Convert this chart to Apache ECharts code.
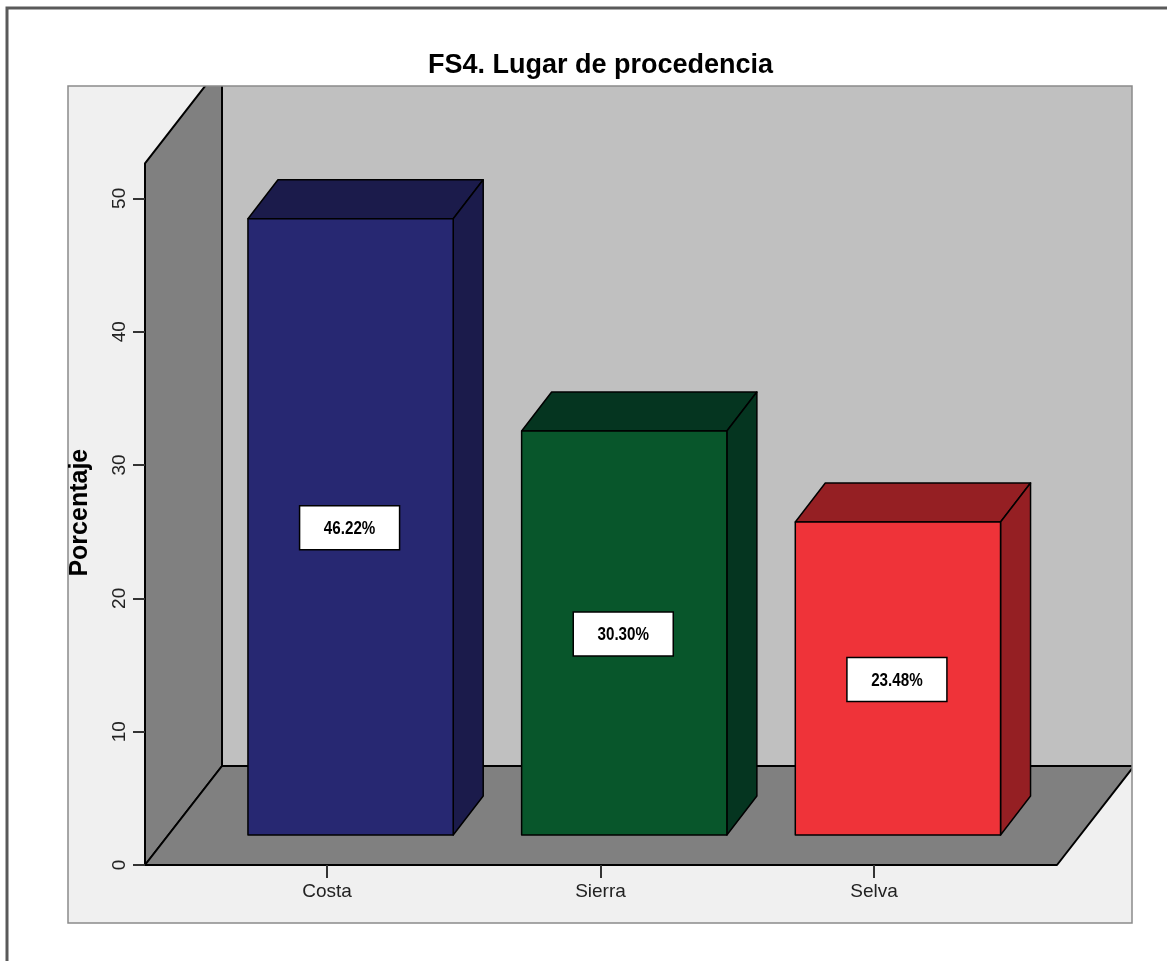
<!DOCTYPE html>
<html>
<head>
<meta charset="utf-8">
<script src="https://cdn.jsdelivr.net/npm/echarts@6/dist/echarts.min.js"></script>
<style>
  html, body { margin: 0; padding: 0; background: #fff; }
  #chart { width: 1167px; height: 961px; }
</style>
</head>
<body>
<div id="chart"></div>
<script>
// datos
const categories = ['Costa', 'Sierra', 'Selva']
const percentages = [46.22, 30.30, 23.48]
const Y_MIN = 0
const Y_MAX = 50
const Y_STEP = 10

// colores (cara frontal / cara superior y lateral)
const FRONT = ['#272872', '#08562b', '#ef3339']
const SHADE = ['#1b1b4b', '#053520', '#951f23']

// desplazamientos 3D
const BAR_DX = 30, BAR_DY = -39
const BOX_DX = 77, BOX_DY = -99
const WALL_EXTRA = 35
const FRAME = { x: 68, y: 86, width: 1064, height: 837 }
const FONT = '"Liberation Sans", Arial, sans-serif'

const chart = echarts.init(document.getElementById('chart'), null, { renderer: 'canvas' })

// paredes y suelo de la caja 3D, a partir del rectángulo del grid del eje visible
function renderWalls(params) {
  const cs = params.coordSys
  const x0 = cs.x
  const x1 = cs.x + cs.width
  const yb = cs.y + cs.height
  const wallTop = cs.y - WALL_EXTRA
  const edge = { stroke: '#000', lineWidth: 2, lineJoin: 'round' }
  return {
    type: 'group',
    children: [
      { type: 'rect', shape: FRAME, style: { fill: '#f0f0f0' } },
      {
        type: 'group',
        clipPath: { type: 'rect', shape: FRAME },
        children: [
          {
            type: 'rect',
            shape: { x: x0 + BOX_DX, y: wallTop + BOX_DY, width: x1 - x0 + 200, height: yb - wallTop },
            style: { fill: '#c0c0c0' },
          },
          {
            type: 'polygon',
            shape: { points: [[x0, yb], [x0, wallTop], [x0 + BOX_DX, wallTop + BOX_DY], [x0 + BOX_DX, yb + BOX_DY]] },
            style: { fill: '#808080', ...edge },
          },
          {
            type: 'polygon',
            shape: { points: [[x0, yb], [x1, yb], [x1 + BOX_DX, yb + BOX_DY], [x0 + BOX_DX, yb + BOX_DY]] },
            style: { fill: '#808080', ...edge },
          },
        ],
      },
      { type: 'rect', shape: FRAME, style: { fill: 'none', stroke: '#8a8a8a', lineWidth: 1.5 } },
    ],
  }
}

function renderBar(params, api) {
  const i = params.dataIndex
  const top = api.coord([api.value(0), api.value(1)])
  const base = api.coord([api.value(0), 0])
  const w = api.size([1, 0])[0] * 0.75
  const xl = top[0] - w / 2
  const xr = top[0] + w / 2
  const yt = top[1]
  const yb = base[1]
  const cx = top[0]
  const cy = (yt + yb) / 2
  const edge = { stroke: '#000', lineWidth: 1.5, lineJoin: 'round' }
  return {
    type: 'group',
    children: [
      {
        type: 'polygon',
        shape: { points: [[xl, yt], [xl + BAR_DX, yt + BAR_DY], [xr + BAR_DX, yt + BAR_DY], [xr, yt]] },
        style: { fill: SHADE[i], ...edge },
      },
      {
        type: 'polygon',
        shape: { points: [[xr, yt], [xr + BAR_DX, yt + BAR_DY], [xr + BAR_DX, yb + BAR_DY], [xr, yb]] },
        style: { fill: SHADE[i], ...edge },
      },
      {
        type: 'rect',
        shape: { x: xl, y: yt, width: w, height: yb - yt },
        style: { fill: FRONT[i], ...edge },
      },
      {
        type: 'rect',
        shape: { x: cx - 51, y: cy - 21, width: 100, height: 44 },
        style: { fill: '#fff', stroke: '#000', lineWidth: 1.5 },
      },
      {
        // texto estrecho: la fuente Narrow no está, se comprime en horizontal
        type: 'text',
        x: cx - 1,
        y: cy + 2,
        scaleX: 0.8,
        style: {
          text: api.value(1).toFixed(2) + '%',
          align: 'center',
          verticalAlign: 'middle',
          font: 'bold 19px ' + FONT,
          fill: '#000',
        },
      },
    ],
  }
}

chart.setOption({
  animation: false,
  backgroundColor: '#fff',
  title: {
    text: 'FS4. Lugar de procedencia',
    left: 423,
    top: 47,
    textStyle: { fontFamily: FONT, fontSize: 27, fontWeight: 'bold', color: '#000' },
  },
  graphic: [{
    type: 'rect',
    shape: { x: 7, y: 8, width: 1300, height: 1100 },
    style: { fill: 'none', stroke: '#5a5a5a', lineWidth: 3 },
    z: 100,
  }],
  grid: [
    // eje visible (arista frontal de la caja)
    { left: 145, right: 110, top: 198.33, bottom: 96 },
    // plano frontal de las barras
    { left: 213.75, right: 132.25, top: 168.33, bottom: 126 },
    // etiquetas de categoría sobre el borde del suelo
    { left: 190.25, right: 156.25, top: 198.33, bottom: 96 },
  ],
  xAxis: [
    { gridIndex: 0, type: 'value', min: 0, max: 1, show: false },
    { gridIndex: 1, type: 'category', data: categories, show: false },
    {
      gridIndex: 2,
      type: 'category',
      data: categories,
      z: 10,
      axisLine: { show: false },
      axisTick: { show: true, alignWithLabel: true, length: 13, lineStyle: { color: '#333', width: 2 } },
      axisLabel: { margin: 17, fontSize: 19, fontFamily: FONT, color: '#222' },
    },
  ],
  yAxis: [
    {
      gridIndex: 0,
      type: 'value',
      min: Y_MIN,
      max: Y_MAX,
      interval: Y_STEP,
      z: 10,
      name: 'Porcentaje',
      nameLocation: 'middle',
      nameRotate: 90,
      nameGap: 52,
      nameTextStyle: { fontFamily: FONT, fontSize: 25, fontWeight: 'bold', color: '#000', padding: [0, 0, 0, 38] },
      axisLine: { show: false },
      axisTick: { show: true, length: 12, lineStyle: { color: '#333', width: 2 } },
      axisLabel: { rotate: 90, margin: 16, fontSize: 19, fontFamily: FONT, color: '#222' },
      splitLine: { show: false },
    },
    { gridIndex: 1, type: 'value', min: Y_MIN, max: Y_MAX, show: false },
    { gridIndex: 2, type: 'value', min: Y_MIN, max: Y_MAX, show: false },
  ],
  series: [
    {
      type: 'custom',
      name: 'caja',
      xAxisIndex: 0,
      yAxisIndex: 0,
      silent: true,
      z: 1,
      renderItem: renderWalls,
      data: [[0, 0]],
    },
    {
      type: 'custom',
      name: 'Porcentaje',
      xAxisIndex: 1,
      yAxisIndex: 1,
      z: 5,
      renderItem: renderBar,
      encode: { x: 0, y: 1 },
      data: percentages.map((v, i) => [i, v]),
    },
  ],
})
</script>
</body>
</html>
